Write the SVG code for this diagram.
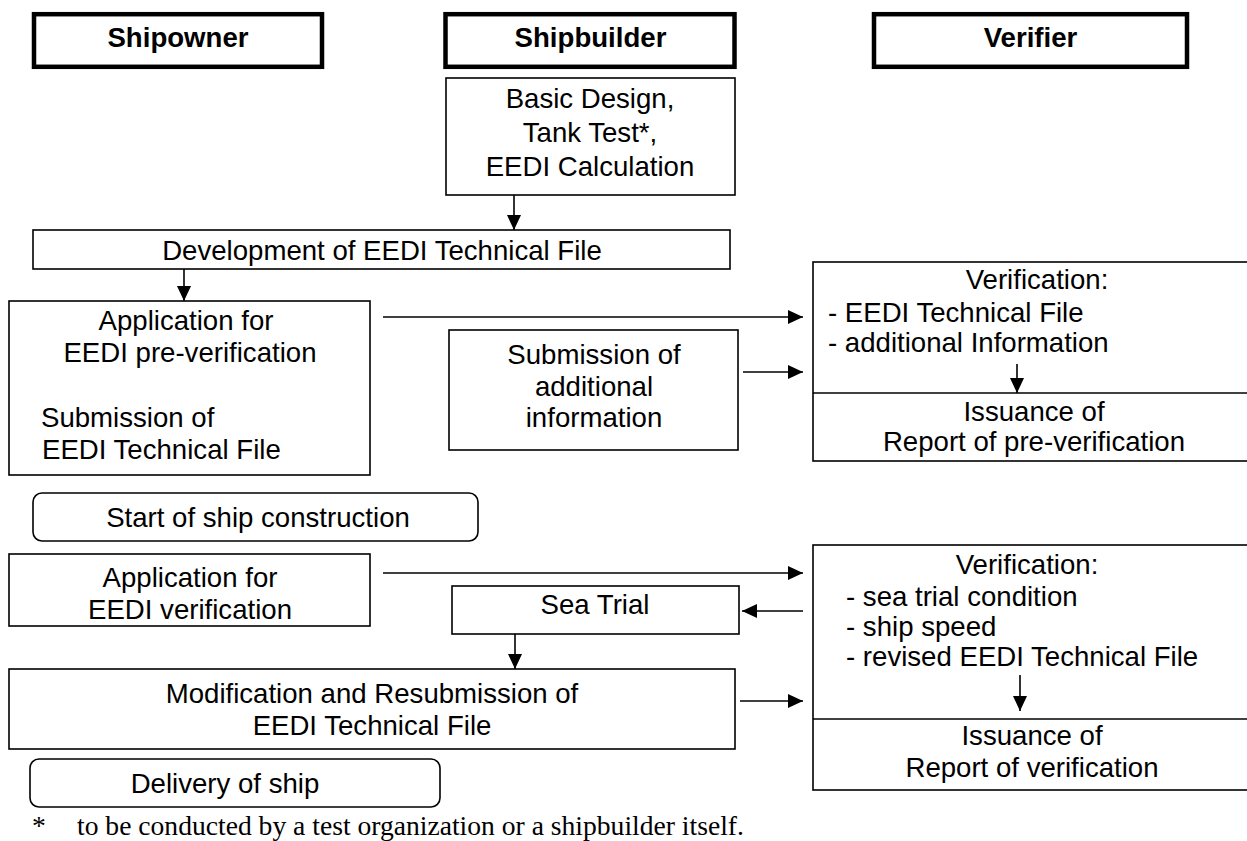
<svg xmlns="http://www.w3.org/2000/svg" width="1247" height="841" viewBox="0 0 1247 841">
<defs>
<style>
.hdr{fill:#fff;stroke:#000;stroke-width:4.5}
.box{fill:#fff;stroke:#000;stroke-width:1.6}
.t{font-family:"Liberation Sans",Arial,sans-serif;font-size:27.6px;fill:#000}
.c{text-anchor:middle}
.b{font-weight:bold}
.ln{stroke:#000;stroke-width:1.6;fill:none}
.fn{font-family:"Liberation Serif","Times New Roman",serif;font-size:27.6px;fill:#000}
</style>
<marker id="ah" viewBox="0 0 15 14" refX="15" refY="7" markerWidth="15" markerHeight="14" markerUnits="userSpaceOnUse" orient="auto">
<path d="M0,0 L15,7 L0,14 Z" fill="#000"/>
</marker>
</defs>
<rect width="1247" height="841" fill="#fff"/>

<g id="hdr-shipowner"><rect class="hdr" x="34" y="14.2" width="288" height="52.6"/><text class="t b c" x="178" y="47">Shipowner</text></g>
<g id="hdr-shipbuilder"><rect class="hdr" x="445.5" y="14.2" width="289" height="52.6"/><text class="t b c" x="590.5" y="47">Shipbuilder</text></g>
<g id="hdr-verifier"><rect class="hdr" x="874" y="14.2" width="313" height="52.6"/><text class="t b c" x="1030.5" y="47">Verifier</text></g>

<g id="basic-design"><rect class="box" x="446" y="78" width="289" height="117"/>
<text class="t c" x="590" y="108">Basic Design,</text>
<text class="t c" x="590" y="142">Tank Test*,</text>
<text class="t c" x="590" y="176">EEDI Calculation</text></g>

<g id="development"><rect class="box" x="33" y="230" width="697" height="39"/>
<text class="t c" x="382" y="260">Development of EEDI Technical File</text></g>

<g id="application-pre"><rect class="box" x="9" y="301" width="361" height="174"/>
<text class="t c" x="186" y="330">Application for</text>
<text class="t c" x="190" y="362">EEDI pre-verification</text>
<text class="t" x="41" y="427">Submission of</text>
<text class="t" x="42" y="459">EEDI Technical File</text></g>

<g id="submission-additional"><rect class="box" x="449" y="330" width="289" height="120"/>
<text class="t c" x="594" y="364">Submission of</text>
<text class="t c" x="594" y="396">additional</text>
<text class="t c" x="594" y="427">information</text></g>

<g id="verification-pre"><rect class="box" x="813" y="262" width="440" height="199"/>
<line class="ln" x1="813" y1="393" x2="1247" y2="393"/>
<text class="t c" x="1037" y="289">Verification:</text>
<text class="t" x="828" y="322">- EEDI Technical File</text>
<text class="t" x="828" y="352">- additional Information</text>
<text class="t c" x="1034" y="421">Issuance of</text>
<text class="t c" x="1034" y="451">Report of pre-verification</text></g>

<g id="start-construction"><rect class="box" x="33" y="493" width="445" height="48" rx="9"/>
<text class="t c" x="258" y="527">Start of ship construction</text></g>

<g id="application-ver"><rect class="box" x="9" y="554" width="361" height="72"/>
<text class="t c" x="190" y="587">Application for</text>
<text class="t c" x="190" y="619">EEDI verification</text></g>

<g id="sea-trial"><rect class="box" x="452" y="586" width="287" height="48"/>
<text class="t c" x="595" y="614">Sea Trial</text></g>

<g id="modification"><rect class="box" x="9" y="669" width="726" height="80"/>
<text class="t c" x="372" y="703">Modification and Resubmission of</text>
<text class="t c" x="372" y="735">EEDI Technical File</text></g>

<g id="verification"><rect class="box" x="813" y="545" width="440" height="245"/>
<line class="ln" x1="813" y1="719" x2="1247" y2="719"/>
<text class="t c" x="1027" y="574">Verification:</text>
<text class="t" x="846" y="606">- sea trial condition</text>
<text class="t" x="846" y="636">- ship speed</text>
<text class="t" x="846" y="666">- revised EEDI Technical File</text>
<text class="t c" x="1032" y="745">Issuance of</text>
<text class="t c" x="1032" y="777">Report of verification</text></g>

<g id="delivery"><rect class="box" x="30" y="759" width="410" height="48" rx="9"/>
<text class="t c" x="225" y="793">Delivery of ship</text></g>

<g id="footnote"><text class="fn" x="32" y="835">*</text><text class="fn" x="77" y="835">to be conducted by a test organization or a shipbuilder itself.</text></g>

<g id="connectors">
<line class="ln" x1="514" y1="195" x2="514" y2="230" marker-end="url(#ah)"/>
<line class="ln" x1="184" y1="269" x2="184" y2="301" marker-end="url(#ah)"/>
<line class="ln" x1="383" y1="317" x2="803" y2="317" marker-end="url(#ah)"/>
<line class="ln" x1="743" y1="372" x2="803" y2="372" marker-end="url(#ah)"/>
<line class="ln" x1="1017" y1="364" x2="1017" y2="393" marker-end="url(#ah)"/>
<line class="ln" x1="383" y1="573" x2="803" y2="573" marker-end="url(#ah)"/>
<line class="ln" x1="803" y1="611" x2="742" y2="611" marker-end="url(#ah)"/>
<line class="ln" x1="515" y1="634" x2="515" y2="669" marker-end="url(#ah)"/>
<line class="ln" x1="740" y1="701" x2="803" y2="701" marker-end="url(#ah)"/>
<line class="ln" x1="1020" y1="675" x2="1020" y2="711" marker-end="url(#ah)"/>
</g>
</svg>
